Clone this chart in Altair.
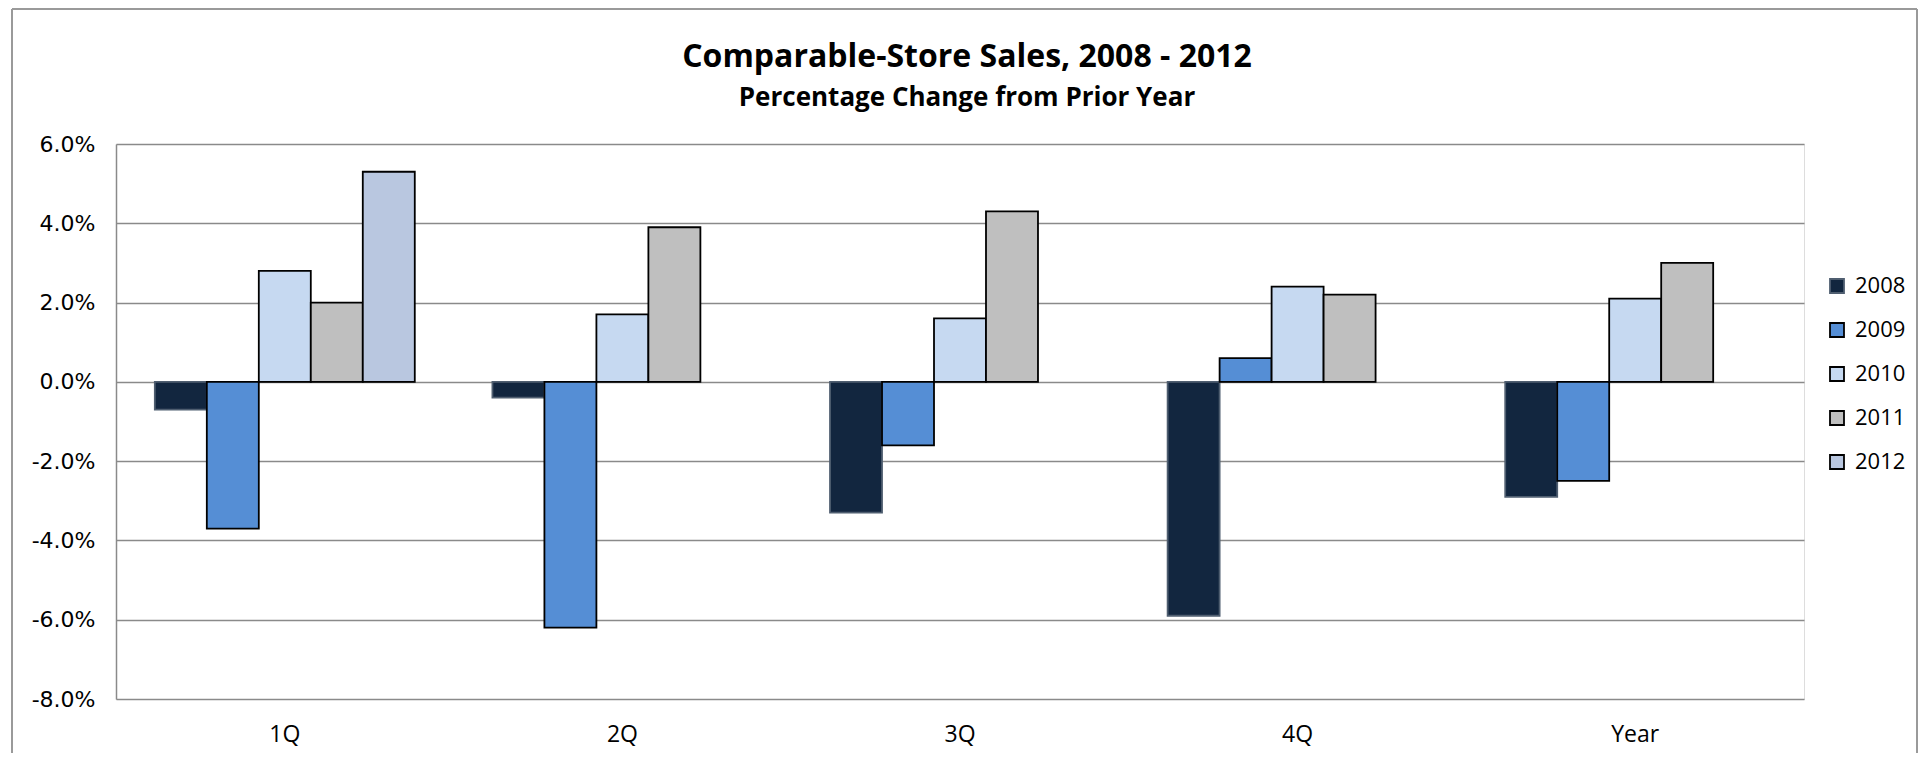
import altair as alt
import pandas as pd

quarters = ["1Q", "2Q", "3Q", "4Q", "Year"]
years = ["2008", "2009", "2010", "2011", "2012"]
s2008 = [-0.7, -0.4, -3.3, -5.9, -2.9]
s2009 = [-3.7, -6.2, -1.6, 0.6, -2.5]
s2010 = [2.8, 1.7, 1.6, 2.4, 2.1]
s2011 = [2.0, 3.9, 4.3, 2.2, 3.0]
s2012 = [5.3, None, None, None, None]
fills = ["#12263F", "#558ED5", "#C6D9F1", "#BFBFBF", "#B9C7E0"]
strokes = ["#4F5E70", "#000000", "#000000", "#000000", "#000000"]

rows = []
for yr, series in zip(years, [s2008, s2009, s2010, s2011, s2012]):
    for q, v in zip(quarters, series):
        if v is not None:
            rows.append({"Quarter": q, "Year": yr, "Value": v})
df = pd.DataFrame(rows)

FONT = "Open Sans"
W, H = 1688, 555

bars = alt.Chart(df).mark_bar(strokeWidth=1.8).encode(
    x=alt.X("Quarter:N", sort=quarters, title=None,
            scale=alt.Scale(domain=quarters, paddingInner=0.23, paddingOuter=0.115),
            axis=alt.Axis(labelAngle=0, labelFontSize=23, labelFont=FONT, labelColor="black",
                          ticks=False, tickSize=0, domain=False, labelPadding=24, grid=False)),
    xOffset=alt.XOffset("Year:N", scale=alt.Scale(domain=years, paddingInner=0, paddingOuter=0)),
    y=alt.Y("Value:Q", title=None,
            scale=alt.Scale(domain=[-8, 6], nice=False, zero=False),
            axis=alt.Axis(values=[-8, -6, -4, -2, 0, 2, 4, 6],
                          labelExpr="(datum.value < 0 ? '-' : '') + format(abs(datum.value), '.1f') + '%'",
                          labelFontSize=22, labelFont="DejaVu Sans", labelColor="black",
                          ticks=False, tickSize=0, labelPadding=21,
                          domain=True, domainColor="#8A8A8A", domainWidth=1.5,
                          grid=True, gridColor="#8A8A8A", gridWidth=1.5)),
    color=alt.Color("Year:N", title=None, scale=alt.Scale(domain=years, range=fills),
                    legend=alt.Legend(orient="none", legendX=1710, legendY=131,
                                      symbolType="square", symbolSize=196, symbolStrokeWidth=1.8,
                                      labelFontSize=22, labelFont=FONT, labelColor="black",
                                      labelOffset=7, rowPadding=22, padding=0)),
    stroke=alt.Stroke("Year:N", title=None, scale=alt.Scale(domain=years, range=strokes)),
)

frame_df = pd.DataFrame({"a": [0]})
frame_left = alt.Chart(frame_df).mark_rule(color="#9A9A9A", strokeWidth=2).encode(
    x=alt.value(-104), y=alt.value(-135), y2=alt.value(620))
frame_top = alt.Chart(frame_df).mark_rule(color="#9A9A9A", strokeWidth=2).encode(
    x=alt.value(-104), x2=alt.value(1801), y=alt.value(-135))
frame_right = alt.Chart(frame_df).mark_rule(color="#9A9A9A", strokeWidth=2).encode(
    x=alt.value(1801), y=alt.value(-135), y2=alt.value(620))

chart = alt.layer(bars, frame_left, frame_top, frame_right).properties(
    width=W, height=H,
    title=alt.TitleParams(
        text="Comparable-Store Sales, 2008 - 2012",
        subtitle="Percentage Change from Prior Year",
        font=FONT, subtitleFont=FONT, fontSize=32, subtitleFontSize=26,
        fontWeight="bold", subtitleFontWeight="bold",
        color="black", subtitleColor="black",
        anchor="middle", dx=7, offset=-104, subtitlePadding=11,
    ),
    autosize=alt.AutoSizeParams(type="none"),
    padding={"left": 108, "top": 136, "right": 116, "bottom": 54},
).configure_view(stroke=None).configure(background="white")

chart.save("out.html", embed_options={"renderer": "svg", "actions": False})
